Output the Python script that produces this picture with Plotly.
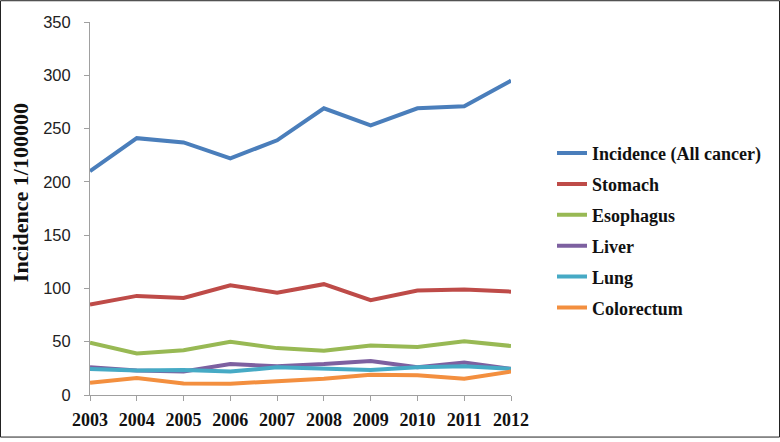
import plotly.graph_objects as go

years = [2003, 2004, 2005, 2006, 2007, 2008, 2009, 2010, 2011, 2012]
incidence_all = [210, 241, 237, 222, 239, 269, 253, 269, 271, 295]
stomach = [85, 93, 91, 103, 96, 104, 89, 98, 99, 97]
esophagus = [49, 39, 42, 50, 44, 41.5, 46.5, 45, 50.5, 46]
liver = [26, 23, 22, 29, 27, 29, 32, 26, 30.5, 24.5]
lung = [24.5, 23, 23.5, 22, 26, 24.5, 23.5, 26, 27, 24.5]
colorectum = [11.5, 16, 10.7, 10.5, 13, 15.3, 19, 18.5, 15.3, 22]

series = [
    ("Incidence (All cancer)", incidence_all, "#4A7EBB"),
    ("Stomach", stomach, "#BE4B48"),
    ("Esophagus", esophagus, "#98B954"),
    ("Liver", liver, "#7D60A0"),
    ("Lung", lung, "#46AAC5"),
    ("Colorectum", colorectum, "#F38F3F"),
]

fig = go.Figure()
for i, (name, vals, col) in enumerate(series):
    fig.add_trace(go.Scatter(x=years, y=vals, mode="lines", name=name,
                             legendgroup=f"g{i}",
                             line=dict(color=col, width=4)))

serif = "Liberation Serif, Times New Roman, serif"
L, R, T, B = 90, 269, 22, 43
W, H = 780, 442
pw, ph = W - L - R, H - T - B

fig.update_layout(
    width=W, height=H,
    margin=dict(l=L, r=R, t=T, b=B),
    paper_bgcolor="white", plot_bgcolor="white",
    showlegend=True,
    legend=dict(x=(552 - L) / pw, y=(H - B - 136) / ph, xanchor="left", yanchor="top",
                traceorder="grouped", tracegroupgap=4.5,
                font=dict(family=serif, size=18, color="#111", weight="bold"),
                bgcolor="rgba(0,0,0,0)"),
    xaxis=dict(range=[2003, 2012], tickmode="array", tickvals=years,
               ticktext=[str(y) for y in years],
               showgrid=False, zeroline=False, showline=True, linecolor="#A0A0A0",
               linewidth=1, ticks="outside", ticklen=5, tickcolor="#A0A0A0",
               ticklabelstandoff=3,
               tickfont=dict(family=serif, size=18, color="#111", weight="bold")),
    yaxis=dict(range=[0, 350], tickvals=[0, 50, 100, 150, 200, 250, 300, 350],
               showgrid=False, zeroline=False, showline=True, linecolor="#A0A0A0",
               linewidth=1, ticks="outside", ticklen=5, tickcolor="#A0A0A0",
               ticklabelstandoff=10,
               tickfont=dict(family="Liberation Sans, Arial, sans-serif", size=16.5, color="#222")),
)

fig.add_annotation(text="Incidence 1/100000", textangle=-90, showarrow=False,
                   xref="paper", yref="paper",
                   x=(20 - L) / pw, y=(H - B - 195) / ph, xanchor="center", yanchor="middle",
                   font=dict(family=serif, size=22, color="#111", weight="bold"))

fig.add_shape(type="rect", xref="paper", yref="paper",
              x0=(0.5 - L) / pw, x1=(W - 0.5 - L) / pw,
              y0=(H - B - (H - 0.5)) / ph, y1=(H - B - 0.5) / ph,
              line=dict(color="#222", width=1), fillcolor="rgba(0,0,0,0)", layer="above")

fig.write_html("out.html", config={"displayModeBar": False},
               post_script="document.body.style.margin='0';document.body.style.overflow='hidden';")
